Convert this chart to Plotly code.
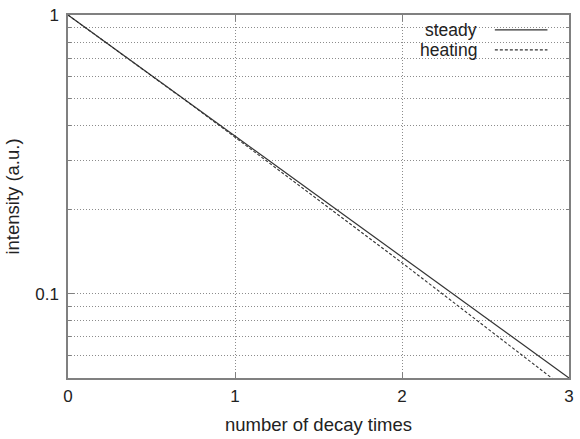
import plotly.graph_objects as go

# Decay curves: intensity vs. number of decay times
steady_x = [0, 1, 2, 3]
steady_y = [1.0, 0.368, 0.135, 0.0498]

heating_x = [0, 0.5, 0.75, 1.0, 1.25, 1.5, 1.75, 2.0, 2.25, 2.5, 2.75, 3.0]
heating_y = [1.0, 0.607, 0.471, 0.364, 0.281, 0.217, 0.167, 0.129, 0.0990, 0.0759, 0.0582, 0.0446]

x_ticks = [0, 1, 2, 3]
y_major = [0.1, 1]
y_major_text = ["0.1", "1"]
y_minor = [0.06, 0.07, 0.08, 0.09, 0.2, 0.3, 0.4, 0.5, 0.6, 0.7, 0.8, 0.9]

series_names = ["steady", "heating"]

FONT = "Liberation Sans, Arial, Helvetica, sans-serif"
TXT = "#222222"
FRAME = "#808080"
GRID = "#8c8c8c"
LINE = "#333333"
DOT = "1px,2px"

fig = go.Figure()
fig.add_trace(go.Scatter(x=steady_x, y=steady_y, mode="lines", name=series_names[0],
                         line=dict(color=LINE, width=1.2), showlegend=False))
fig.add_trace(go.Scatter(x=heating_x, y=heating_y, mode="lines", name=series_names[1],
                         line=dict(color=LINE, width=1.1, dash="3px,2px"), showlegend=False))

fig.update_layout(
    width=580, height=439,
    margin=dict(l=68, r=6, t=12, b=61),
    paper_bgcolor="white", plot_bgcolor="white",
    font=dict(family=FONT, size=17, color=TXT),
    xaxis=dict(
        range=[0, 3], tickmode="array", tickvals=x_ticks,
        ticks="inside", ticklen=6, tickcolor=FRAME, tickwidth=1,
        tickfont=dict(size=17), ticklabelstandoff=2,
        showline=True, linecolor=FRAME, linewidth=1.5, mirror="allticks",
        showgrid=True, gridcolor=GRID, gridwidth=1, griddash=DOT,
        zeroline=False,
        title=dict(text="number of decay times", standoff=13,
                   font=dict(family=FONT, size=18.5, color=TXT)),
    ),
    yaxis=dict(
        type="log", range=[-1.3028, 0],
        tickmode="array", tickvals=y_major, ticktext=y_major_text,
        ticks="inside", ticklen=6, tickcolor=FRAME, tickwidth=1,
        tickfont=dict(size=17), ticklabelstandoff=4,
        showline=True, linecolor=FRAME, linewidth=1.5, mirror="allticks",
        showgrid=True, gridcolor=GRID, gridwidth=1, griddash=DOT,
        zeroline=False,
        minor=dict(tickmode="array", tickvals=y_minor, ticks="inside", ticklen=3,
                   tickcolor=FRAME, showgrid=True, gridcolor=GRID, gridwidth=1,
                   griddash=DOT),
        title=dict(text="intensity (a.u.)", standoff=11,
                   font=dict(family=FONT, size=18.5, color=TXT)),
    ),
)

# Key box in the upper right, text followed by line sample
fig.add_shape(type="rect", xref="paper", yref="paper", x0=0.670, x1=0.978, y0=0.874, y1=0.995,
              fillcolor="white", line=dict(width=0), layer="between")
key_y = [0.959, 0.904]
key_dash = ["solid", "3px,2px"]
for name, ky, dash in zip(series_names, key_y, key_dash):
    fig.add_annotation(xref="paper", yref="paper", x=0.820, y=ky, text=name, showarrow=False,
                       xanchor="right", yanchor="middle", font=dict(family=FONT, size=17.5, color=TXT))
    fig.add_shape(type="line", xref="paper", yref="paper", x0=0.852, x1=0.957, y0=ky, y1=ky,
                  line=dict(color=LINE, width=1.1, dash=dash))

fig.write_html("out.html")
